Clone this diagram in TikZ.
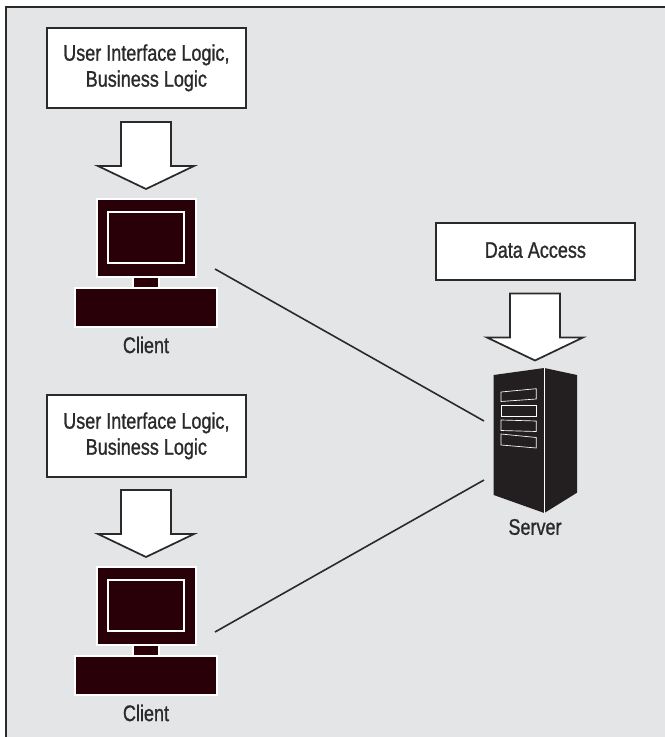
\documentclass[tikz,border=0pt]{standalone}
\usepackage{fontspec}
\setmainfont[FakeStretch=0.8,FakeBold=1]{Liberation Sans}
\definecolor{panel}{HTML}{E4E5E7}
\definecolor{pcdark}{HTML}{2A0008}
\definecolor{srvdark}{HTML}{231F20}
\definecolor{ink}{HTML}{2B2A2B}
\tikzset{
  x=0.75pt,y=-0.75pt,
  frame/.style={draw=ink,line width=1.5pt,fill=panel},
  labelbox/.style={draw=ink,line width=1.3pt,fill=white,inner sep=0pt,align=center,font=\fontsize{16.9}{19.5}\selectfont,text=ink,anchor=north west},
  caption/.style={font=\fontsize{16.9}{19}\selectfont,text=ink,inner sep=0pt},
  bigarrow/.style={draw=ink,line width=1.3pt,fill=white,line join=miter},
  pcpart/.style={draw=white,line width=1.3pt,fill=pcdark},
  link/.style={draw=ink,line width=1.2pt},
  slot/.style={draw=white,line width=0.5pt,fill=srvdark}
}
\newcommand{\downarrowshape}[2]{%
  \draw[bigarrow,shift={(#1,#2)}] (-25,0) -- (25,0) -- (25,44) -- (48,44) -- (0,67) -- (-48,44) -- (-25,44) -- cycle;}
\newcommand{\clientpc}[2]{%
  \begin{scope}[shift={(0,#1)}]
    \path[pcpart] (133,276) rectangle (159,288);
    \path[pcpart] (97,199) rectangle (196,277);
    \path[pcpart] (108,212) rectangle (184,263);
    \path[pcpart] (75,288) rectangle (217,327);
    \node[caption] (#2) at (146,345) {Client};
  \end{scope}}
\begin{document}
\begin{tikzpicture}
\useasboundingbox (0,0) rectangle (664,737);
\path[frame] (5.5,7) rectangle (680,760);
\node[labelbox,minimum width=199*0.75pt,minimum height=80*0.75pt] (logicA) at (46,27) {User Interface Logic,\\Business Logic};
\node[labelbox,minimum width=199*0.75pt,minimum height=82*0.75pt] (logicB) at (46,394) {User Interface Logic,\\Business Logic};
\node[labelbox,minimum width=199*0.75pt,minimum height=57*0.75pt,text depth=2pt] (dataaccess) at (435,222) {Data Access};
\downarrowshape{146}{122}
\downarrowshape{146}{490}
\downarrowshape{535}{293.5}
\clientpc{0}{clientA}
\clientpc{368}{clientB}
% server
\fill[srvdark] (493.7,375) -- (544.3,368) -- (577,375) -- (577,492.7) -- (544.3,513) -- (493.7,495) -- cycle;
\draw[white,line width=0.7pt] (544.6,368) -- (544.6,513);
\path[slot] (501,392) -- (536.3,388.7) -- (536.3,399) -- (501,401.5) -- cycle;
\path[slot] (501,405) -- (536.3,405) -- (536.3,416) -- (501,416) -- cycle;
\path[slot] (501,420) -- (536.3,421) -- (536.3,431.5) -- (501,430.5) -- cycle;
\path[slot] (501,434) -- (536.3,437.5) -- (536.3,448) -- (501,445) -- cycle;
\node[caption] (server) at (535,527) {Server};
% connectors
\coordinate (pcA) at (215,269);
\coordinate (pcB) at (215,632);
\coordinate (srvA) at (484,421);
\coordinate (srvB) at (484,480);
\draw[link] (pcA) -- (srvA);
\draw[link] (pcB) -- (srvB);
\end{tikzpicture}
\end{document}
